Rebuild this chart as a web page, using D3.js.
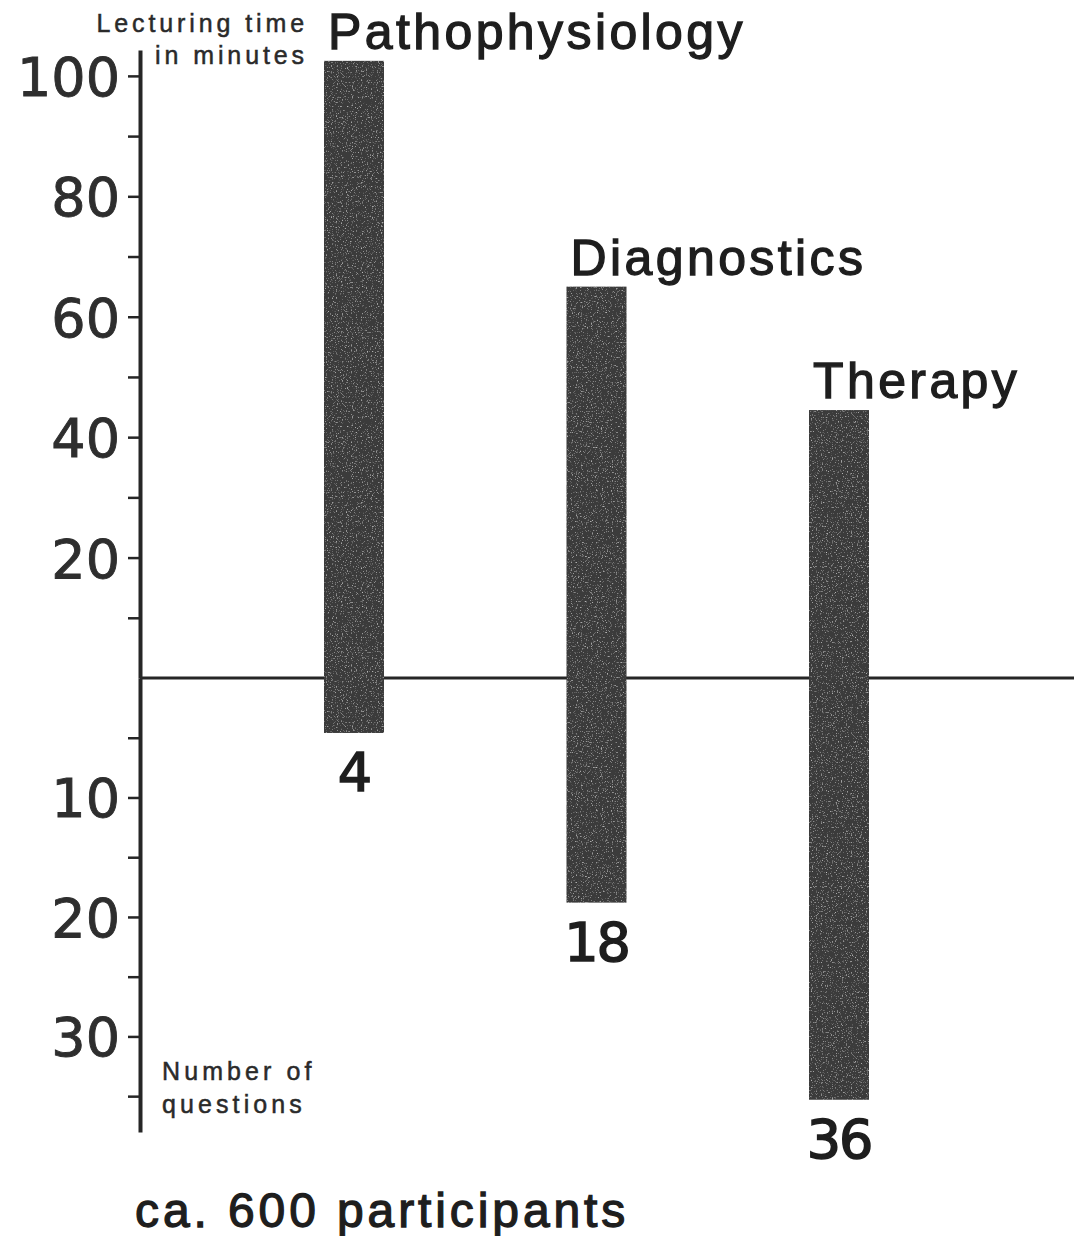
<!DOCTYPE html>
<html>
<head>
<meta charset="utf-8">
<script src="https://cdn.jsdelivr.net/npm/d3@7/dist/d3.min.js"></script>
<style>
  html, body { margin: 0; padding: 0; background: #fff; }
  svg { display: block; }
</style>
</head>
<body>
<script>
// ---- data ----
const categories = ["Pathophysiology", "Diagnostics", "Therapy"];
const lectureMinutes = [102.5, 65, 44.5];          // bar heights above the zero line
const questionBars = [4.6, 18.8, 35.3];            // bar depths below the zero line (as drawn)
const questionLabels = ["4", "18", "36"];          // printed numbers under bars
const minuteTicks = [10, 20, 30, 40, 50, 60, 70, 80, 90, 100];
const minuteTickLabels = [20, 40, 60, 80, 100];
const questionTicks = [5, 10, 15, 20, 25, 30, 35];
const questionTickLabels = [10, 20, 30];
const topAxisTitle = ["Lecturing time", "in minutes"];
const bottomAxisTitle = ["Number of", "questions"];
const footnote = "ca. 600 participants";

// ---- layout ----
const W = 1074, H = 1236;
const axisX = 140, zeroY = 678;
const ink = "#262626";

const svg = d3.select("body").append("svg").attr("width", W).attr("height", H);

const defs = svg.append("defs");
const f = defs.append("filter").attr("id", "grain").attr("x", 0).attr("y", 0).attr("width", 1).attr("height", 1);
f.append("feTurbulence").attr("type", "fractalNoise").attr("baseFrequency", 0.8).attr("numOctaves", 2).attr("seed", 3).attr("result", "noise");
f.append("feColorMatrix").attr("in", "noise").attr("type", "matrix")
  .attr("values", "0 0 0 0 1  0 0 0 0 1  0 0 0 0 1  1.6 0 0 0 -0.95").attr("result", "spk");
f.append("feComposite").attr("in", "spk").attr("in2", "SourceGraphic").attr("operator", "in").attr("result", "spk2");
f.append("feMerge").selectAll("feMergeNode").data(["SourceGraphic", "spk2"]).join("feMergeNode").attr("in", d => d);

const yTop = d3.scaleLinear().domain([0, 104.3]).range([zeroY, 50]);
const yBot = d3.scaleLinear().domain([0, 38]).range([zeroY, 1132]);
const x = d3.scalePoint().domain(categories).range([354, 839]);
const barW = 60;

// horizontal zero line
svg.append("line")
  .attr("x1", axisX).attr("x2", W).attr("y1", zeroY).attr("y2", zeroY)
  .attr("stroke", ink).attr("stroke-width", 3);

// axes
function styleAxis(g) {
  g.select(".domain").attr("stroke", ink).attr("stroke-width", 4);
  g.selectAll(".tick line").attr("stroke", ink).attr("stroke-width", 2.5);
  g.selectAll(".tick text")
    .attr("fill", "#2e2e2e")
    .attr("stroke", "#2e2e2e").attr("stroke-width", 0.9)
    .attr("font-family", "'DejaVu Sans', sans-serif")
    .attr("font-size", 54)
    .attr("dy", "0.36em");
}
const topAxis = d3.axisLeft(yTop).tickValues(minuteTicks).tickSize(12).tickSizeOuter(0).tickPadding(8)
  .tickFormat(d => minuteTickLabels.includes(d) ? d : "");
svg.append("g").attr("transform", `translate(${axisX},0)`).call(topAxis).call(styleAxis);

const botAxis = d3.axisLeft(yBot).tickValues(questionTicks).tickSize(12).tickSizeOuter(0).tickPadding(8)
  .tickFormat(d => questionTickLabels.includes(d) ? d : "");
svg.append("g").attr("transform", `translate(${axisX},0)`).call(botAxis).call(styleAxis);

// bars
const bars = svg.append("g");
bars.selectAll("rect").data(categories).join("rect")
  .attr("x", d => x(d) - barW / 2)
  .attr("width", barW)
  .attr("y", (d, i) => yTop(lectureMinutes[i]))
  .attr("height", (d, i) => yBot(questionBars[i]) - yTop(lectureMinutes[i]))
  .attr("fill", "#3a3a3a")
  .attr("filter", "url(#grain)");

// category labels
svg.append("g").selectAll("text").data(categories).join("text")
  .attr("x", d => x(d) - barW / 2 + 4)
  .attr("y", (d, i) => yTop(lectureMinutes[i]) - 12)
  .attr("font-family", "'Liberation Sans', Arial, sans-serif")
  .attr("font-size", 50)
  .attr("letter-spacing", 3.4)
  .attr("fill", "#1e1e1e")
  .attr("stroke", "#1e1e1e").attr("stroke-width", 1.3)
  .text(d => d);

// question numbers
svg.append("g").selectAll("text").data(categories).join("text")
  .attr("x", d => x(d))
  .attr("y", (d, i) => yBot(questionBars[i]) + 58)
  .attr("text-anchor", "middle")
  .attr("font-family", "'DejaVu Sans', sans-serif")
  .attr("font-size", 54)
  .attr("letter-spacing", -2)
  .attr("fill", "#1e1e1e")
  .attr("stroke", "#1e1e1e").attr("stroke-width", 1.6)
  .text((d, i) => questionLabels[i]);

// axis titles
svg.append("g").selectAll("text").data(topAxisTitle).join("text")
  .attr("x", 308).attr("y", (d, i) => 32 + i * 32)
  .attr("text-anchor", "end")
  .attr("font-family", "'Liberation Sans', Arial, sans-serif")
  .attr("font-size", 25).attr("letter-spacing", 3.9)
  .attr("fill", "#2a2a2a")
  .attr("stroke", "#2a2a2a").attr("stroke-width", 0.5)
  .text(d => d);

svg.append("g").selectAll("text").data(bottomAxisTitle).join("text")
  .attr("x", 162).attr("y", (d, i) => 1080 + i * 33)
  .attr("font-family", "'Liberation Sans', Arial, sans-serif")
  .attr("font-size", 25).attr("letter-spacing", 4.1)
  .attr("fill", "#2a2a2a")
  .attr("stroke", "#2a2a2a").attr("stroke-width", 0.5)
  .text(d => d);

// footnote
svg.append("text")
  .attr("x", 135).attr("y", 1227)
  .attr("font-family", "'Liberation Sans', Arial, sans-serif")
  .attr("font-size", 48).attr("letter-spacing", 3.9)
  .attr("fill", "#1e1e1e")
  .attr("stroke", "#1e1e1e").attr("stroke-width", 1.3)
  .text(footnote);
</script>
</body>
</html>
